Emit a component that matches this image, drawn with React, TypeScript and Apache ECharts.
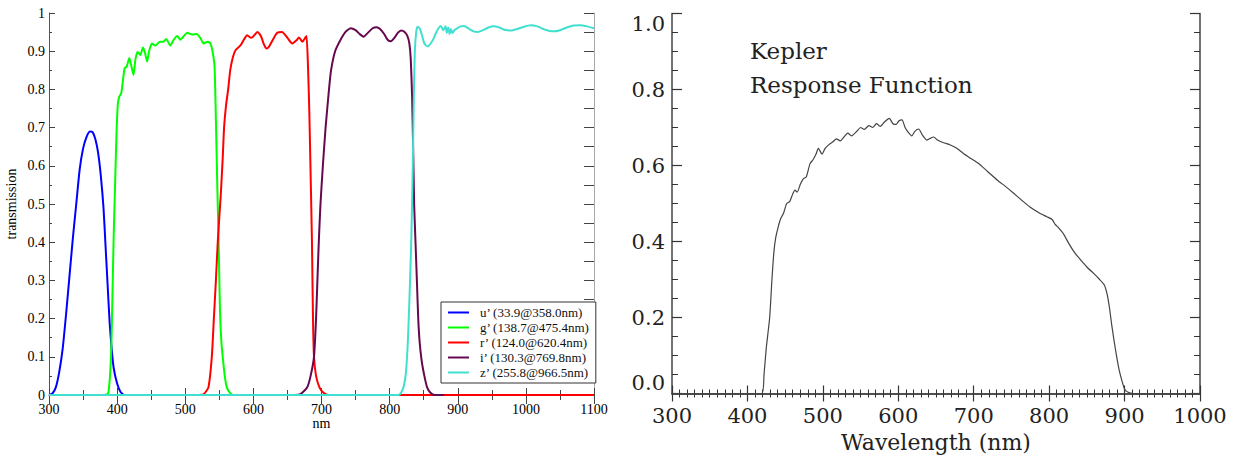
import React, { useEffect, useRef } from "react";
import * as echarts from "echarts";

// ---- Left chart: filter transmission curves (nm, transmission) ----
const filterLabels = [
  "u’ (33.9@358.0nm)",
  "g’ (138.7@475.4nm)",
  "r’ (124.0@620.4nm)",
  "i’ (130.3@769.8nm)",
  "z’ (255.8@966.5nm)",
];
const filterColors = ["#0000ff", "#00ff00", "#ff0000", "#66084f", "#40e0d0"];

const uBand = [
  [300, 0], [305, 0.004], [310, 0.02], [315, 0.06], [320, 0.12], [325, 0.21], [330, 0.31], [335, 0.41],
  [340, 0.5], [345, 0.59], [350, 0.645], [355, 0.675], [360, 0.69], [364, 0.688], [368, 0.67], [372, 0.635],
  [376, 0.575], [380, 0.49], [383, 0.39], [386, 0.29], [389, 0.19], [392, 0.12], [395, 0.07], [400, 0.03],
  [405, 0.008], [410, 0],
];
const gBand = [
  [380, 0], [387, 0.005], [391, 0.1], [393, 0.25], [395, 0.42], [397, 0.55], [399, 0.68], [401, 0.76],
  [403, 0.78], [406, 0.79], [409, 0.83], [411, 0.855], [414, 0.86], [418, 0.882], [421, 0.86], [424, 0.838],
  [427, 0.88], [430, 0.898], [434, 0.89], [438, 0.91], [441, 0.895], [444, 0.873], [447, 0.9], [451, 0.92],
  [456, 0.915], [463, 0.925], [468, 0.925], [472, 0.932], [478, 0.915], [483, 0.93], [488, 0.94], [493, 0.93],
  [498, 0.94], [503, 0.948], [510, 0.944], [517, 0.945], [522, 0.935], [527, 0.92], [533, 0.925], [537, 0.92],
  [540, 0.9], [543, 0.86], [545, 0.72], [547, 0.55], [549, 0.4], [551, 0.22], [553, 0.14], [555, 0.1],
  [558, 0.05], [561, 0.02], [566, 0.005], [571, 0], [600, 0],
];
const rBand = [
  [520, 0], [527, 0.002], [534, 0.02], [539, 0.1], [542, 0.2], [545, 0.3], [548, 0.41], [552, 0.52],
  [555, 0.62], [557, 0.7], [560, 0.76], [563, 0.8], [566, 0.85], [570, 0.885], [574, 0.903], [581, 0.915],
  [586, 0.93], [591, 0.942], [596, 0.935], [599, 0.937], [606, 0.95], [611, 0.94], [615, 0.92], [619, 0.907],
  [623, 0.912], [628, 0.928], [635, 0.948], [642, 0.95], [650, 0.935], [657, 0.92], [663, 0.928], [667, 0.936],
  [672, 0.925], [676, 0.935], [678, 0.94], [680, 0.87], [682, 0.75], [684, 0.58], [686, 0.4], [687.5, 0.2],
  [689, 0.1], [692, 0.05], [697, 0.02], [703, 0.006], [710, 0], [1100, 0],
];
const iBand = [
  [660, 0], [669, 0.002], [679, 0.02], [684, 0.05], [689, 0.1], [692, 0.2], [694, 0.3], [696, 0.4],
  [698.5, 0.5], [702, 0.6], [706, 0.7], [711, 0.8], [714, 0.85], [720, 0.9], [728, 0.93], [735, 0.95],
  [743, 0.96], [750, 0.955], [756, 0.945], [762, 0.938], [768, 0.948], [775, 0.96], [781, 0.963], [786, 0.958],
  [792, 0.945], [797, 0.93], [802, 0.926], [807, 0.935], [812, 0.948], [817, 0.954], [822, 0.95], [826, 0.94],
  [829, 0.92], [831, 0.88], [833, 0.78], [834.5, 0.65], [836, 0.5], [838, 0.4], [840, 0.3], [842, 0.2],
  [844, 0.14], [847, 0.09], [851, 0.05], [855, 0.02], [860, 0.006], [866, 0], [880, 0],
];
const zBand = [
  [300, 0], [813, 0], [818, 0.01], [821, 0.025], [824, 0.06], [827, 0.15], [830, 0.3], [832, 0.42],
  [834, 0.6], [835.5, 0.78], [837, 0.9], [839, 0.95], [841, 0.964], [844, 0.96], [847, 0.945], [851, 0.92],
  [856, 0.912], [861, 0.922], [865, 0.935], [870, 0.955], [875, 0.966], [879, 0.955], [882, 0.965], [884, 0.948],
  [886, 0.962], [888, 0.945], [890, 0.958], [892, 0.947], [895, 0.955], [899, 0.96], [904, 0.965], [909, 0.966],
  [917, 0.958], [923, 0.952], [929, 0.95], [937, 0.955], [945, 0.962], [953, 0.965], [961, 0.962], [969, 0.956],
  [978, 0.954], [987, 0.958], [997, 0.964], [1007, 0.968], [1017, 0.965], [1027, 0.957], [1035, 0.953],
  [1042, 0.952], [1050, 0.955], [1060, 0.962], [1070, 0.967], [1080, 0.968], [1090, 0.965], [1100, 0.96],
];
const filterBands = [uBand, gBand, rBand, iBand, zBand];

// ---- Right chart: Kepler response function (nm, response) ----
const keplerTitle = ["Kepler", "Response Function"];
const keplerResponse = [
  [300, 0], [419, 0], [422, 0.05], [425, 0.12], [429.5, 0.2], [432.5, 0.3], [435, 0.37], [437.5, 0.41],
  [441, 0.44], [444, 0.46], [448, 0.475], [452, 0.5], [456, 0.505], [459, 0.52], [463, 0.535], [466, 0.53],
  [470, 0.55], [474, 0.565], [478, 0.57], [483, 0.605], [487, 0.615], [491, 0.63], [494, 0.645], [499, 0.63],
  [503, 0.645], [508, 0.655], [513, 0.662], [518, 0.67], [523, 0.665], [528, 0.675], [533, 0.685], [538, 0.678],
  [545, 0.69], [550, 0.7], [555, 0.695], [561, 0.705], [566, 0.7], [571, 0.71], [576, 0.703], [582, 0.715],
  [588, 0.724], [593, 0.71], [597, 0.708], [601, 0.718], [605, 0.72], [609, 0.7], [613, 0.688], [618, 0.678],
  [622, 0.69], [627, 0.696], [632, 0.68], [638, 0.667], [643, 0.672], [647, 0.675], [652, 0.667], [660, 0.66],
  [669, 0.654], [678, 0.645], [686, 0.632], [695, 0.62], [706, 0.606], [718, 0.585], [731, 0.562], [742, 0.545],
  [753, 0.527], [764, 0.508], [775, 0.49], [787, 0.475], [797, 0.465], [804, 0.458], [808, 0.445], [812, 0.437],
  [819, 0.42], [826, 0.395], [834, 0.37], [842, 0.351], [850, 0.333], [859, 0.316], [866, 0.302], [873, 0.286],
  [877, 0.26], [880, 0.225], [883, 0.18], [886, 0.14], [889.5, 0.097], [893, 0.06], [897, 0.03], [900, 0.012],
  [904, 0.004], [912, 0], [1000, 0],
];

const LSERIF = "Liberation Serif";
const DSERIF = "DejaVu Serif";

export default function App() {
  const ref = useRef<HTMLDivElement>(null);
  useEffect(() => {
    if (!ref.current) return;
    const chart = echarts.init(ref.current, null, { renderer: "svg" });
    const leftAxisLine = { lineStyle: { color: "#555", width: 1 } };
    const leftFrameLine = { lineStyle: { color: "#aaa", width: 1 } };
    const rightAxisLine = { lineStyle: { color: "#444", width: 1.5 } };
    const plain = (v: number) => String(v);

    const option: any = {
      animation: false,
      backgroundColor: "#fff",
      grid: [
        { left: 49, top: 13, width: 545, height: 382 },
        { left: 672, top: 13.5, width: 528, height: 380 },
      ],
      xAxis: [
        {
          gridIndex: 0, type: "value", position: "bottom", min: 300, max: 1100, interval: 100,
          axisLine: leftAxisLine,
          axisTick: { inside: true, length: 7, lineStyle: { color: "#444" } },
          minorTick: { show: true, splitNumber: 2, length: 5, lineStyle: { color: "#444" } },
          splitLine: { show: false },
          axisLabel: {
            margin: 7, lineHeight: 14, fontFamily: LSERIF, fontSize: 14, color: "#000", formatter: plain,
          },
          name: "nm", nameLocation: "middle", nameGap: 21, nameMoveOverlap: false,
          nameTextStyle: { fontFamily: LSERIF, fontSize: 14, lineHeight: 14, color: "#000" },
        },
        {
          gridIndex: 0, type: "value", position: "top", min: 300, max: 1100, interval: 100,
          axisLine: leftFrameLine,
          axisTick: { inside: true, length: 9, lineStyle: { color: "#444" } },
          minorTick: { show: true, splitNumber: 2, length: 5, lineStyle: { color: "#444" } },
          splitLine: { show: false }, axisLabel: { show: false },
        },
        {
          gridIndex: 1, type: "value", position: "bottom", min: 300, max: 1000, interval: 100,
          axisLine: rightAxisLine,
          axisTick: { inside: true, length: 8, lineStyle: { color: "#333", width: 1.2 } },
          minorTick: { show: true, splitNumber: 10, length: 4, lineStyle: { color: "#333", width: 1 } },
          splitLine: { show: false },
          axisLabel: { margin: 12, fontFamily: DSERIF, fontSize: 21, color: "#222", formatter: plain },
          name: "Wavelength (nm)", nameLocation: "middle", nameGap: 38,
          nameTextStyle: { fontFamily: DSERIF, fontSize: 22, color: "#222" },
        },
        {
          gridIndex: 1, type: "value", position: "top", min: 300, max: 1000, interval: 100,
          axisLine: rightAxisLine,
          axisTick: { inside: true, length: 8, lineStyle: { color: "#333", width: 1.2 } },
          minorTick: { show: true, splitNumber: 10, length: 4, lineStyle: { color: "#333", width: 1 } },
          splitLine: { show: false }, axisLabel: { show: false },
        },
      ],
      yAxis: [
        {
          gridIndex: 0, type: "value", position: "left", min: 0, max: 1, interval: 0.1,
          axisLine: { show: true, ...leftAxisLine },
          axisTick: { show: true, inside: true, length: 6, lineStyle: { color: "#444" } },
          minorTick: { show: true, splitNumber: 2, length: 3, lineStyle: { color: "#444" } },
          splitLine: { show: false },
          axisLabel: {
            margin: 4, lineHeight: 14, fontFamily: LSERIF, fontSize: 14, color: "#000",
            formatter: (v: number) => String(Math.round(v * 10) / 10),
          },
          name: "transmission", nameLocation: "middle", nameGap: 31,
          nameTextStyle: { fontFamily: LSERIF, fontSize: 14, color: "#000" },
        },
        {
          gridIndex: 0, type: "value", position: "right", min: 0, max: 1, interval: 0.1,
          axisLine: { show: true, ...leftFrameLine },
          axisTick: { show: true, inside: true, length: 10, lineStyle: { color: "#444" } },
          minorTick: { show: true, splitNumber: 2, length: 10, lineStyle: { color: "#444" } },
          splitLine: { show: false }, axisLabel: { show: false },
        },
        {
          gridIndex: 1, type: "value", position: "left", min: 0, max: 1, interval: 0.2,
          axisLine: { show: true, ...rightAxisLine },
          axisTick: { show: true, inside: true, length: 10, lineStyle: { color: "#333", width: 1.2 } },
          minorTick: { show: true, splitNumber: 4, length: 6, lineStyle: { color: "#333", width: 1 } },
          splitLine: { show: false },
          axisLabel: {
            margin: 7, fontFamily: DSERIF, fontSize: 21, color: "#222",
            formatter: (v: number) => v.toFixed(1),
            verticalAlignMinLabel: "bottom", verticalAlignMaxLabel: "top",
          },
        },
        {
          gridIndex: 1, type: "value", position: "right", min: 0, max: 1, interval: 0.2,
          axisLine: { show: true, ...rightAxisLine },
          axisTick: { show: true, inside: true, length: 10, lineStyle: { color: "#333", width: 1.2 } },
          minorTick: { show: true, splitNumber: 4, length: 6, lineStyle: { color: "#333", width: 1 } },
          splitLine: { show: false }, axisLabel: { show: false },
        },
      ],
      legend: {
        data: filterLabels,
        left: 441, top: 302, orient: "vertical",
        itemWidth: 21, itemHeight: 14, itemGap: 2,
        padding: [4, 6, 4, 6],
        borderColor: "#333", borderWidth: 1, backgroundColor: "#fff",
        selectedMode: false,
        itemStyle: { opacity: 0 },
        lineStyle: { width: 2 },
        textStyle: { fontFamily: LSERIF, fontSize: 13, color: "#111", padding: [0, 0, 0, 6] },
      },
      series: [
        ...filterBands.map((band, i) => ({
          name: filterLabels[i],
          type: "line",
          xAxisIndex: 0, yAxisIndex: 0,
          data: band,
          showSymbol: false, symbol: "none",
          smooth: 0.2,
          lineStyle: { color: filterColors[i], width: 2 },
          itemStyle: { color: filterColors[i] },
          z: 2 + i,
        })),
        {
          name: "Kepler",
          type: "line",
          xAxisIndex: 2, yAxisIndex: 2,
          data: keplerResponse,
          showSymbol: false, symbol: "none",
          smooth: 0.2,
          lineStyle: { color: "#444", width: 1.2 },
        },
      ],
      graphic: keplerTitle.map((t, i) => ({
        type: "text",
        left: 750,
        top: 39 + i * 34,
        style: { text: t, font: `23px "${DSERIF}"`, fill: "#222" },
      })),
    };
    chart.setOption(option);
    return () => chart.dispose();
  }, []);
  return (
    <div
      ref={ref}
      style={{ position: "fixed", left: 0, top: 0, width: 1236, height: 461, background: "#fff" }}
    />
  );
}
